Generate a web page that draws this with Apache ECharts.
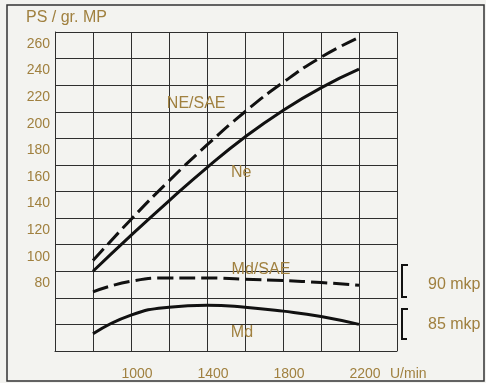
<!DOCTYPE html>
<html>
<head>
<meta charset="utf-8">
<script src="https://cdn.jsdelivr.net/npm/echarts@6/dist/echarts.min.js"></script>
<style>
  html, body { margin: 0; padding: 0; background: #f3f3f0; }
  #chart { width: 486px; height: 383px; }
</style>
</head>
<body>
<div id="chart"></div>
<script>
// Drehzahl (U/min)
const rpm = [800, 1000, 1200, 1400, 1600, 1800, 2000, 2200];
// Leistung PS
const neSae = [88, 119, 148, 175, 200, 222, 241, 256];
const ne = [80, 107, 133, 158, 181, 201, 218, 232];
// Drehmoment (Skala rechts)
const mdSae = [64.5, 72.5, 75, 75, 74, 73, 71.5, 69.5];
const md = [33, 47, 53, 54.5, 53, 50, 46, 40];
// Achsbeschriftung
const xTickLabels = [1000, 1400, 1800, 2200];
const yTickLabels = [80, 100, 120, 140, 160, 180, 200, 220, 240, 260];
// Kurvennamen: [U/min, PS, text]
const curveNames = [
  [1343, 206, 'NE/SAE'],
  [1580, 154, 'Ne'],
  [1684, 81, 'Md/SAE'],
  [1584, 33.5, 'Md']
];

const gold = '#a0803f';
const ink = '#111';
const gridInk = '#2e2e2e';
const font = '"Liberation Sans", Arial, sans-serif';

const chart = echarts.init(document.getElementById('chart'));

function pairs(ys) {
  return rpm.map((x, i) => [x, ys[i]]);
}

function nameMark(idx) {
  const p = curveNames[idx];
  return {
    symbol: 'circle',
    symbolSize: 1,
    itemStyle: { color: 'rgba(0,0,0,0)' },
    label: {
      show: true,
      position: 'inside',
      formatter: p[2],
      color: gold,
      fontSize: 16,
      fontFamily: font
    },
    data: [{ coord: [p[0], p[1]] }]
  };
}

function curve(ys, dashed, idx) {
  return {
    type: 'line',
    data: pairs(ys),
    smooth: 0.5,
    symbol: 'none',
    lineStyle: {
      color: ink,
      width: 3,
      type: dashed ? [16, 6] : 'solid'
    },
    markPoint: nameMark(idx),
    z: 3
  };
}

const option = {
  backgroundColor: '#f3f3f0',
  animation: false,
  title: {
    text: 'PS / gr. MP',
    left: 26,
    top: 10,
    padding: 0,
    textStyle: { color: gold, fontSize: 16, fontWeight: 'normal', fontFamily: font }
  },
  grid: {
    left: 55,
    right: 89,
    top: 32,
    bottom: 32,
    containLabel: false,
    outerBoundsMode: 'none'
  },
  xAxis: {
    type: 'value',
    min: 600,
    max: 2400,
    interval: 200,
    name: 'U/min',
    nameLocation: 'end',
    nameGap: -7,
    nameMoveOverlap: false,
    nameTextStyle: {
      color: gold, fontSize: 14, fontFamily: font,
      align: 'left', verticalAlign: 'top', padding: [16, 0, 0, 0]
    },
    axisLine: { show: true, lineStyle: { color: gridInk, width: 1 } },
    axisTick: { show: false },
    splitLine: { show: true, lineStyle: { color: gridInk, width: 1 } },
    axisLabel: {
      color: gold,
      fontSize: 14,
      fontFamily: font,
      margin: 16,
      padding: [0, 0, 0, 12],
      formatter: v => xTickLabels.includes(v) ? String(v) : ''
    }
  },
  yAxis: {
    type: 'value',
    min: 20,
    max: 260,
    interval: 20,
    axisLine: { show: true, lineStyle: { color: gridInk, width: 1 } },
    axisTick: { show: false },
    splitLine: { show: true, lineStyle: { color: gridInk, width: 1 } },
    axisLabel: {
      color: gold,
      fontSize: 14,
      fontFamily: font,
      margin: 5,
      verticalAlign: 'top',
      padding: [5, 0, 0, 0],
      formatter: v => yTickLabels.includes(v) ? String(v) : ''
    }
  },
  series: [
    curve(neSae, true, 0),
    curve(ne, false, 1),
    curve(mdSae, true, 2),
    curve(md, false, 3)
  ],
  graphic: [
    {
      type: 'rect',
      shape: { x: 7, y: 5, width: 477, height: 376 },
      style: { fill: 'none', stroke: '#333', lineWidth: 1.5 },
      silent: true
    },
    {
      type: 'polyline',
      shape: { points: [[408, 265], [402, 265], [402, 297], [407, 297]] },
      style: { fill: 'none', stroke: ink, lineWidth: 2 }
    },
    {
      type: 'polyline',
      shape: { points: [[408, 309], [402, 309], [402, 339], [407, 339]] },
      style: { fill: 'none', stroke: ink, lineWidth: 2 }
    },
    {
      type: 'text',
      left: 428,
      top: 277,
      style: { text: '90 mkp', fill: gold, fontSize: 16, fontFamily: font }
    },
    {
      type: 'text',
      left: 428,
      top: 317,
      style: { text: '85 mkp', fill: gold, fontSize: 16, fontFamily: font }
    }
  ]
};

chart.setOption(option);
window.addEventListener('resize', () => chart.resize());
</script>
</body>
</html>
